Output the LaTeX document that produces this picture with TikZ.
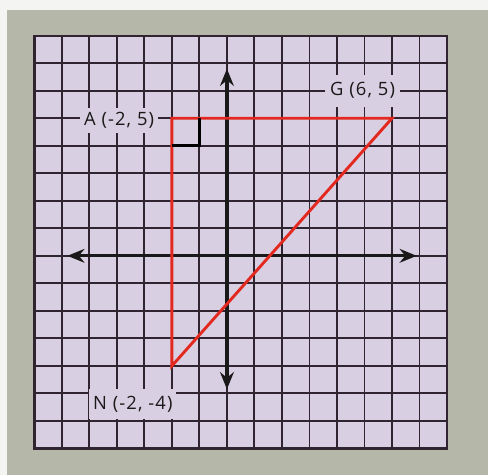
\documentclass[tikz,border=0pt]{standalone}
\usepackage{fontspec}
\setmainfont{Open Sans}
\usepackage{xcolor}
\definecolor{paperGray}{HTML}{B5B7A8}
\definecolor{frameWhite}{HTML}{F4F4F2}
\definecolor{gridFill}{HTML}{D9CFE2}
\definecolor{gridInk}{HTML}{302430}
\definecolor{triRed}{HTML}{E2281F}
\usepackage{tikz}
\usetikzlibrary{arrows.meta}

\begin{document}
\begin{tikzpicture}[>={Stealth[length=0.62cm,width=0.5cm]},
    gridline/.style={gridInk, line width=2pt},
    axis/.style={black!90, line width=3.4pt},
    side/.style={triRed, line width=3pt, line join=miter},
    ptlabel/.style={fill=gridFill, inner xsep=4pt, inner ysep=5pt, text=black!90,
      font=\fontsize{19}{22}\selectfont\addfontfeature{LetterSpace=6}}]
  % ---- paper behind the sheet ----
  \useasboundingbox (-8.25,-7.96) rectangle (9.49,9.3);
  \fill[paperGray] (-8.25,-7.96) rectangle (9.49,9.3);
  \fill[frameWhite] (-8.25,8.95) rectangle (9.49,9.3);       % white strip at the top
  \fill[frameWhite] (-8.25,-7.96) rectangle (-8.0,9.3);      % and at the left
  % ---- grid ----
  \fill[gridFill] (-7,-7) rectangle (8,8);
  \draw[gridline] (-7,-7) grid (8,8);
  \draw[gridInk, line width=2.4pt] (-7,-7) rectangle (8,8);
  % ---- points ----
  \coordinate (A) at (-2,5);
  \coordinate (G) at (6,5);
  \coordinate (N) at (-2,-4);
  % labels knock the grid out behind them
  \node[ptlabel] (Alab) at (-3.92,4.92) {A (-2, 5)};
  \node[ptlabel, inner xsep=5pt, inner ysep=8pt] (Glab) at (4.93,6) {G (6, 5)};
  \node[ptlabel, inner ysep=7pt] (Nlab) at (-3.42,-5.38) {N (-2, -4)};
  % ---- axes ----
  \coordinate (xl) at (-5.8,0);
  \coordinate (xr) at (6.9,0);
  \coordinate (yt) at (0,6.8);
  \coordinate (yb) at (0,-4.85);
  \draw[axis, <->] (xl) -- (xr);
  \draw[axis, <->] (yb) -- (yt);
  % ---- triangle AGN ----
  \draw[side] (A) -- (G) -- (N) -- cycle;
  \draw[black, line width=3pt] (A) ++(0,-1) -- ++(1,0) -- ++(0,1);   % right angle at A
\end{tikzpicture}
\end{document}
